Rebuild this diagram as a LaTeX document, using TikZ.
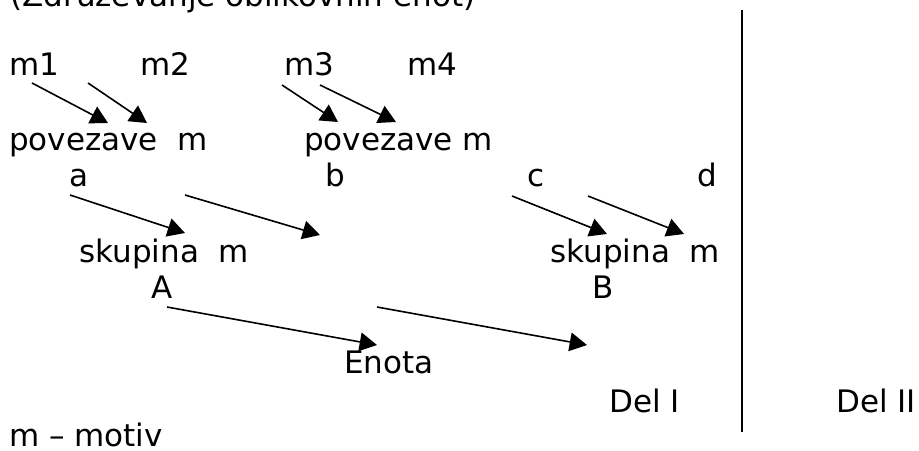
\documentclass[tikz,border=0pt]{standalone}
\usepackage{fontspec}
\setmainfont{DejaVu Sans}
\usetikzlibrary{arrows.meta}

\begin{document}
\begin{tikzpicture}[x=0.75pt,y=-0.75pt]

      \useasboundingbox (0,0) rectangle (919,450);

      \begin{scope}[every node/.style={anchor=base west,inner sep=0pt,font=\fontsize{23.25}{28}\selectfont}]
        \node (title) at (10,6)   {(Združevanje oblikovnih enot)};
        \node (m1)    at (9,75)   {m1};
        \node (m2)    at (140,75) {m2};
        \node (m3)    at (284,75) {m3};
        \node (m4)    at (407,75) {m4};
        \node (pa)    at (9,150)  {povezave\ \ m};
        \node (pb)    at (304,150) {povezave m};
        \node (a)     at (69,186) {a};
        \node (b)     at (325,186) {b};
        \node (c)     at (527,186) {c};
        \node (d)     at (697,186) {d};
        \node (sa)    at (79,262) {skupina\ \ m};
        \node (sb)    at (550,262) {skupina\ \ m};
        \node (A)     at (151,298) {A};
        \node (B)     at (592,298) {B};
        \node (enota) at (344,373) {Enota};
        \node (del1)  at (609,412) {Del I};
        \node (del2)  at (836,412) {Del II};
        \node (legend) at (9,446) {m – motiv};
      \end{scope}

      % arrow ends
      \coordinate (t1)  at (32,83);   \coordinate (h1)  at (108,123);
      \coordinate (t2)  at (88,83);   \coordinate (h2)  at (147,123);
      \coordinate (t3)  at (282,85);  \coordinate (h3)  at (338,122);
      \coordinate (t4)  at (320,85);  \coordinate (h4)  at (396,122);
      \coordinate (t5)  at (70,195);  \coordinate (h5)  at (185,233);
      \coordinate (t6)  at (185,195); \coordinate (h6)  at (320,235);
      \coordinate (t7)  at (512,196); \coordinate (h7)  at (607,234);
      \coordinate (t8)  at (588,196); \coordinate (h8)  at (684,234);
      \coordinate (t9)  at (167,307); \coordinate (h9)  at (377,345);
      \coordinate (t10) at (377,307); \coordinate (h10) at (587,345);
      \coordinate (top) at (742,10);  \coordinate (bot) at (742,432);

      \begin{scope}[every edge/.style={draw,line width=1.2pt,-{Triangle[length=13pt,width=14pt]}}]
        \path (t1)  edge (h1);
        \path (t2)  edge (h2);
        \path (t3)  edge (h3);
        \path (t4)  edge (h4);
        \path (t5)  edge (h5);
        \path (t6)  edge (h6);
        \path (t7)  edge (h7);
        \path (t8)  edge (h8);
        \path (t9)  edge (h9);
        \path (t10) edge (h10);
      \end{scope}

      \draw[line width=1.2pt] (top) -- (bot);

    \end{tikzpicture}
\end{document}
